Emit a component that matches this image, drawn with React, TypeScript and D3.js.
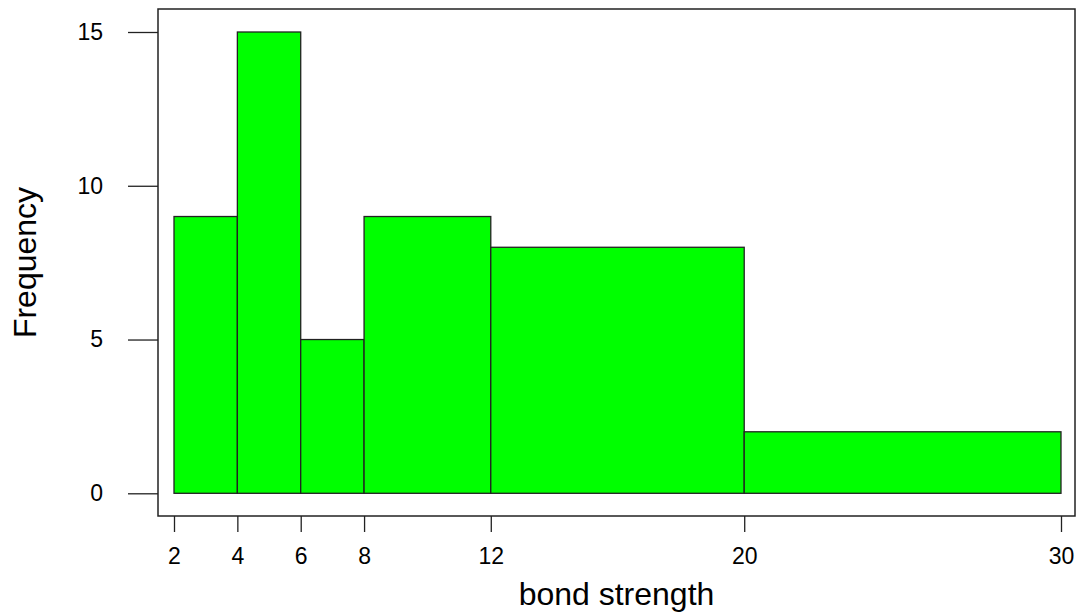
import * as d3 from 'd3';
import { useEffect, useRef } from 'react';

// histogram bins (breaks) and their counts
const breaks = [2, 4, 6, 8, 12, 20, 30];
const counts = [9, 15, 5, 9, 8, 2];
const yTicks = [0, 5, 10, 15];
const xLabel = 'bond strength';
const yLabel = 'Frequency';

const W = 1077;
const H = 615;
const font = '"Liberation Sans", Arial, sans-serif';

export default function App() {
  const svgRef = useRef<SVGSVGElement>(null);

  useEffect(() => {
    drawChart(svgRef.current as SVGSVGElement);
  }, []);

  return (
    <div style={{ position: 'absolute', left: 0, top: 0 }}>
      <svg ref={svgRef} width={W} height={H}></svg>
    </div>
  );
}

function drawChart(el: SVGSVGElement) {
  const box = { left: 158, top: 9, right: 1075, bottom: 516 };

  const x = d3.scaleLinear().domain([2, 30]).range([174, 1061]);
  const y = d3.scaleLinear().domain([0, 15]).range([493.3, 32]);

  const svg = d3.select(el);
  svg.selectAll('*').remove();
  svg.append('rect').attr('width', W).attr('height', H).attr('fill', '#fff');

  const bins = counts.map((c, i) => ({ x0: breaks[i], x1: breaks[i + 1], n: c }));

  svg.append('g')
    .selectAll('rect')
    .data(bins)
    .enter()
    .append('rect')
    .attr('x', d => x(d.x0))
    .attr('width', d => x(d.x1) - x(d.x0))
    .attr('y', d => y(d.n))
    .attr('height', d => y(0) - y(d.n))
    .attr('fill', '#00ff00')
    .attr('stroke', '#222')
    .attr('stroke-width', 1.3);

  // plot frame
  svg.append('rect')
    .attr('x', box.left)
    .attr('y', box.top)
    .attr('width', box.right - box.left)
    .attr('height', box.bottom - box.top)
    .attr('fill', 'none')
    .attr('stroke', '#222')
    .attr('stroke-width', 1.5);

  const yAxis = d3.axisLeft(y).tickValues(yTicks).tickSize(30).tickPadding(25);
  const gy = svg.append('g')
    .attr('transform', `translate(${box.left},0)`)
    .call(yAxis);
  gy.select('.domain').remove();

  const xAxis = d3.axisBottom(x).tickValues(breaks).tickSize(16).tickPadding(16);
  const gx = svg.append('g')
    .attr('transform', `translate(0,${box.bottom})`)
    .call(xAxis);
  gx.select('.domain').remove();

  svg.selectAll('.tick line').attr('stroke', '#222').attr('stroke-width', 1.3);
  svg.selectAll('.tick text')
    .attr('fill', '#000')
    .style('font-family', font)
    .style('font-size', '23px');

  svg.append('text')
    .attr('x', (box.left + box.right) / 2)
    .attr('y', 605)
    .attr('text-anchor', 'middle')
    .style('font-family', font)
    .style('font-size', '32px')
    .text(xLabel);

  svg.append('text')
    .attr('transform', `translate(36,${(box.top + box.bottom) / 2}) rotate(-90)`)
    .attr('text-anchor', 'middle')
    .style('font-family', font)
    .style('font-size', '32px')
    .text(yLabel);
}
